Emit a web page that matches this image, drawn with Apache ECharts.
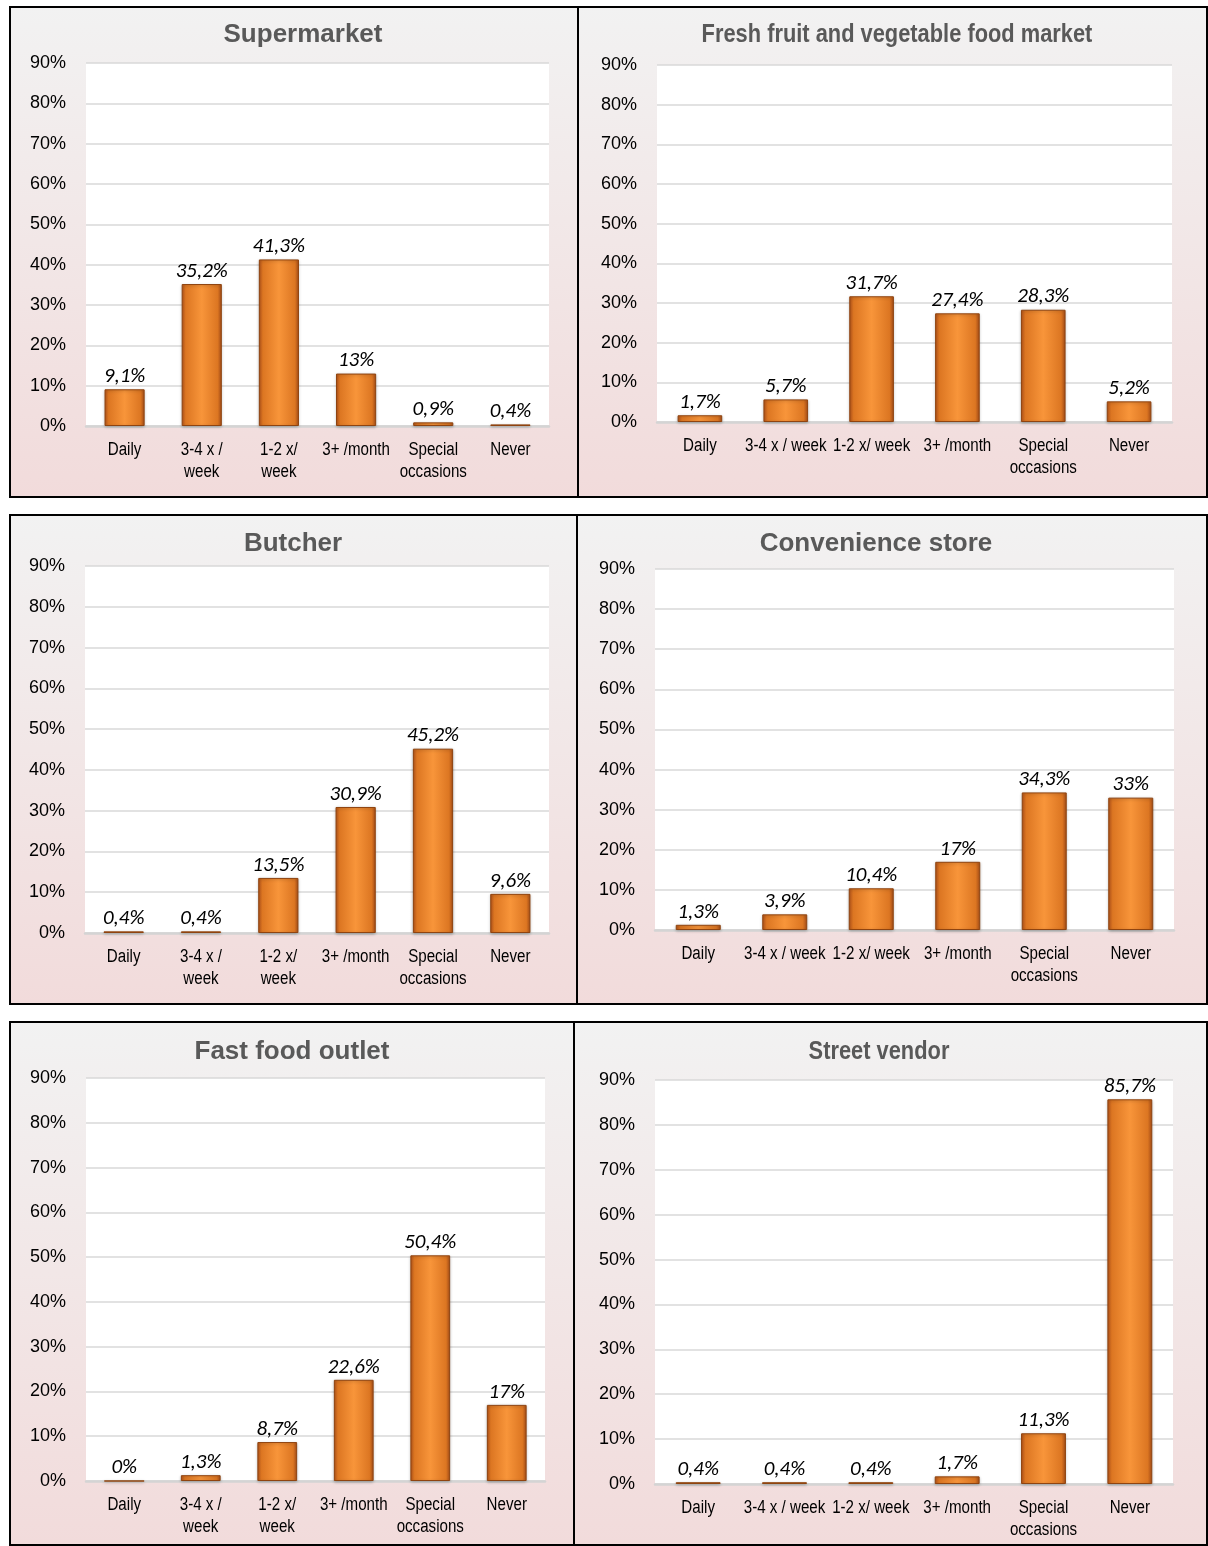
<!DOCTYPE html>
<html>
<head>
<meta charset="utf-8">
<script src="https://cdn.jsdelivr.net/npm/echarts@6/dist/echarts.min.js"></script>
<style>
html,body{margin:0;padding:0;background:#fff;}
#c{width:1208px;height:1546px;}
</style>
</head>
<body>
<div id="c"></div>
<script>
// ---------- data ----------
const catsWrapped = ['Daily', '3-4 x /\nweek', '1-2 x/\nweek', '3+ /month', 'Special\noccasions', 'Never'];
const catsWide = ['Daily', '3-4 x / week', '1-2 x/ week', '3+ /month', 'Special\noccasions', 'Never'];
const titles = ['Supermarket', 'Fresh fruit and vegetable food market', 'Butcher', 'Convenience store', 'Fast food outlet', 'Street vendor'];
const supermarket = [9.1, 35.2, 41.3, 13, 0.9, 0.4];
const freshMarket = [1.7, 5.7, 31.7, 27.4, 28.3, 5.2];
const butcher = [0.4, 0.4, 13.5, 30.9, 45.2, 9.6];
const convenience = [1.3, 3.9, 10.4, 17, 34.3, 33];
const fastFood = [0, 1.3, 8.7, 22.6, 50.4, 17];
const streetVendor = [0.4, 0.4, 0.4, 1.7, 11.3, 85.7];
const yMin = 0, yMax = 90, yStep = 10;

// ---------- layout ----------
const panels = [
  {box:[10,7,568,490],   t:[303,35],   narrow:false, grid:[86,63,463,363],   cats:catsWrapped, data:supermarket},
  {box:[578,7,629,490],  t:[897,35],   narrow:true,  grid:[657,65,515,357],  cats:catsWide,    data:freshMarket},
  {box:[10,515,567,489], t:[293,544],  narrow:false, grid:[85,566,464,367],  cats:catsWrapped, data:butcher},
  {box:[577,515,630,489],t:[876,544],  narrow:false, grid:[655,569,519,361], cats:catsWide,    data:convenience},
  {box:[10,1022,564,523],t:[292,1052], narrow:false, grid:[86,1078,459,403], cats:catsWrapped, data:fastFood},
  {box:[574,1022,633,523],t:[879,1052],narrow:true,  grid:[655,1080,518,404],cats:catsWide,    data:streetVendor}
];

const fmt = v => String(v).replace('.', ',') + '%';

const barColor = new echarts.graphic.LinearGradient(0, 0, 1, 0, [
  {offset: 0, color: '#b4531a'},
  {offset: 0.1, color: '#dc7622'},
  {offset: 0.5, color: '#f8953a'},
  {offset: 0.9, color: '#dc7622'},
  {offset: 1, color: '#a94e18'}
]);

const graphic = [];
const grid = [], xAxis = [], yAxis = [], series = [];
panels.forEach((p, i) => {
  graphic.push({
    type: 'rect', z: -10,
    shape: {x: p.box[0], y: p.box[1], width: p.box[2], height: p.box[3]},
    style: {
      fill: new echarts.graphic.LinearGradient(0, 0, 0, 1, [
        {offset: 0, color: '#f2f2f2'},
        {offset: 1, color: '#f2dbdb'}
      ]),
      stroke: '#000', lineWidth: 2
    }
  });
  graphic.push({
    type: 'text', z: 10,
    x: p.t[0], y: p.t[1],
    scaleX: p.narrow ? 0.84 : 1,
    style: {
      text: titles[i], x: 0, y: 0, align: 'center', verticalAlign: 'middle',
      fill: '#595959',
      font: 'bold 26px "Liberation Sans", Arial, sans-serif'
    }
  });
  grid.push({
    left: p.grid[0], top: p.grid[1], width: p.grid[2], height: p.grid[3],
    show: true, backgroundColor: '#ffffff', borderWidth: 0, containLabel: false
  });
  xAxis.push({
    type: 'category', gridIndex: i, data: p.cats,
    axisLine: {show: true, lineStyle: {color: '#d4d4d4', width: 2.5}},
    axisTick: {show: false},
    axisLabel: {show: false}
  });
  yAxis.push({
    type: 'value', gridIndex: i, min: yMin, max: yMax, interval: yStep,
    axisLine: {show: false}, axisTick: {show: false},
    splitLine: {show: true, lineStyle: {color: '#d9d9d9', width: 1.5}},
    axisLabel: {
      formatter: '{value}%', color: '#000', margin: 20,
      fontFamily: '"Liberation Sans", Arial, sans-serif', fontSize: 18
    }
  });
  series.push({
    type: 'bar', xAxisIndex: i, yAxisIndex: i, data: p.data, barWidth: '52%',
    itemStyle: {
      color: barColor, borderColor: '#8f4410', borderWidth: 1,
      shadowColor: 'rgba(0,0,0,0.25)', shadowBlur: 3, shadowOffsetY: 1
    },
    label: {
      show: true, position: 'top', distance: 2, color: '#000',
      fontStyle: 'italic', fontSize: 21,
      fontFamily: 'Carlito, Lato, "Open Sans", sans-serif',
      formatter: params => fmt(params.value)
    },
    emphasis: {disabled: true},
    animation: false
  });
});

const chart = echarts.init(document.getElementById('c'), null, {renderer: 'canvas'});
chart.setOption({
  backgroundColor: '#ffffff',
  animation: false,
  graphic: graphic,
  grid: grid,
  xAxis: xAxis,
  yAxis: yAxis,
  series: series
});

// Category labels placed from the axis scale, drawn condensed (Arial Narrow look)
const labelGraphics = graphic.slice();
panels.forEach((p, i) => {
  p.cats.forEach((c, j) => {
    const pt = chart.convertToPixel({gridIndex: i}, [j, 0]);
    labelGraphics.push({
      type: 'text', z: 10,
      x: pt[0], y: pt[1] + 13,
      scaleX: 0.84,
      style: {
        text: c, x: 0, y: 0, align: 'center', verticalAlign: 'top',
        fill: '#000', lineHeight: 22,
        font: '18px "Liberation Sans", Arial, sans-serif'
      }
    });
  });
});
chart.setOption({graphic: labelGraphics});
</script>
</body>
</html>
